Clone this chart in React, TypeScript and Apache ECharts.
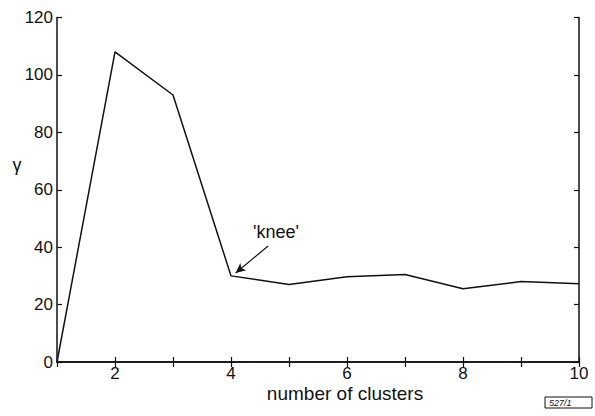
import React, { useEffect, useRef } from "react";
import * as echarts from "echarts";

const clusters = [1, 2, 3, 4, 5, 6, 7, 8, 9, 10];
const gamma = [0, 108, 93, 30, 27, 29.7, 30.5, 25.5, 28, 27.3];
const xTickLabels = ["2", "4", "6", "8", "10"];
const xTitle = "number of clusters";
const yTitle = "γ";
const kneeLabel = "'knee'";
const figureCode = "527/1";

const FONT = "Liberation Sans, Arial, sans-serif";

export default function App() {
  const ref = useRef<HTMLDivElement>(null);
  useEffect(() => {
    document.body.style.margin = "0";
    const chart = echarts.init(ref.current!, null, { renderer: "svg" });
    const axisLine = { show: true, lineStyle: { color: "#111", width: 1.5 } };
    const tick = { show: true, inside: true, length: 5, lineStyle: { color: "#111", width: 1.2 } };
    chart.setOption({
      animation: false,
      backgroundColor: "#fff",
      grid: { left: 57, right: 16, top: 17.5, bottom: 54, containLabel: false },
      xAxis: [
        {
          type: "value",
          min: 1,
          max: 10,
          interval: 1,
          position: "bottom",
          axisLine,
          axisTick: tick,
          splitLine: { show: false },
          axisLabel: {
            fontFamily: FONT,
            fontSize: 17,
            color: "#111",
            margin: 3,
            formatter: (v: number) => (xTickLabels.includes(String(v)) ? String(v) : ""),
          },
        },
        {
          type: "value",
          min: 1,
          max: 10,
          interval: 1,
          position: "top",
          axisLine,
          axisTick: tick,
          splitLine: { show: false },
          axisLabel: { show: false },
        },
      ],
      yAxis: [
        {
          type: "value",
          min: 0,
          max: 120,
          interval: 20,
          position: "left",
          axisLine,
          axisTick: tick,
          splitLine: { show: false },
          axisLabel: { fontFamily: FONT, fontSize: 17, color: "#111", margin: 4 },
        },
        {
          type: "value",
          min: 0,
          max: 120,
          interval: 20,
          position: "right",
          axisLine,
          axisTick: tick,
          splitLine: { show: false },
          axisLabel: { show: false },
        },
      ],
      series: [
        {
          type: "line",
          data: clusters.map((c, i) => [c, gamma[i]]),
          showSymbol: false,
          symbol: "none",
          lineStyle: { color: "#111", width: 1.5 },
          markLine: {
            silent: true,
            animation: false,
            label: { show: false },
            lineStyle: { color: "#111", width: 1.2, type: "solid" },
            symbolSize: [7, 10],
            data: [
              [
                { coord: [4.64, 40.4], symbol: "none" },
                { coord: [4.08, 31], symbol: "arrow" },
              ],
            ],
          },
        },
      ],
      graphic: [
        {
          type: "text",
          x: 345,
          y: 393,
          style: {
            text: xTitle,
            font: `19px ${FONT}`,
            fill: "#111",
            align: "center",
            verticalAlign: "middle",
          },
        },
        {
          type: "text",
          x: 17,
          y: 165,
          style: {
            text: yTitle,
            font: `18px ${FONT}`,
            fill: "#111",
            align: "center",
            verticalAlign: "middle",
          },
        },
        {
          type: "text",
          left: 253,
          top: 223,
          style: { text: kneeLabel, font: `18px ${FONT}`, fill: "#111" },
        },
        {
          type: "rect",
          shape: { x: 545, y: 397, width: 47, height: 11 },
          style: { fill: "#fff", stroke: "#111", lineWidth: 1 },
        },
        {
          type: "text",
          left: 549,
          top: 398,
          style: { text: figureCode, font: `italic 9px ${FONT}`, fill: "#111" },
        },
      ],
    });
    return () => chart.dispose();
  }, []);
  return <div ref={ref} style={{ width: 595, height: 416 }} />;
}
